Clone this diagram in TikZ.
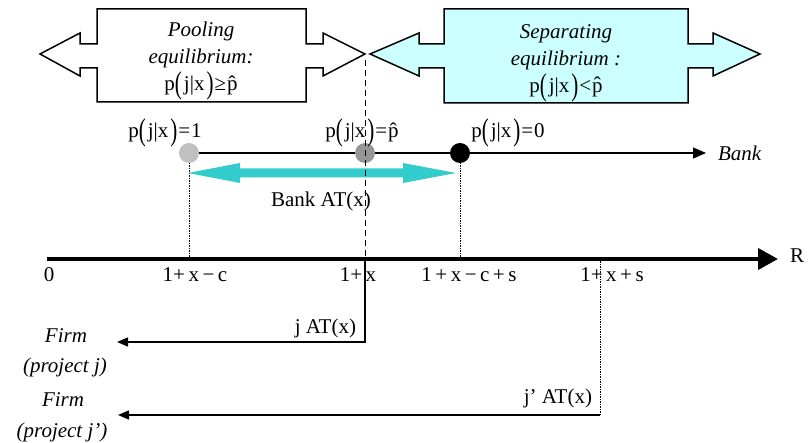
\documentclass[tikz,border=0pt]{standalone}
\usepackage{fontspec}
\setmainfont{Liberation Serif}
\usepackage{graphicx}
\usetikzlibrary{arrows.meta}
\definecolor{sepfill}{HTML}{CCFFFF}
\definecolor{tealarrow}{HTML}{33CCCC}
\definecolor{dotlight}{HTML}{C0C0C0}
\definecolor{dotmid}{HTML}{969696}
\newcommand{\myparL}{\raisebox{-0.15em}{\scalebox{1}[1.5]{(}}}
\newcommand{\myparR}{\raisebox{-0.15em}{\scalebox{1}[1.5]{)}}}
\newcommand{\pjx}{p\myparL\kern2pt j|x\kern2pt\myparR}
\begin{document}
\begin{tikzpicture}[x=1pt,y=-1pt,
  font=\fontsize{21}{27}\selectfont,
  bigarrow/.style={draw=black,line width=1.5pt,line join=miter},
  lbl/.style={inner sep=0pt,outer sep=0pt},
  dotnode/.style={circle,inner sep=0pt,minimum size=20pt},
  dottedline/.style={line width=1pt,dash pattern=on 1.5pt off 1pt},
  dashedline/.style={line width=1pt,dash pattern=on 6pt off 4pt},
  firmarrow/.style={line width=1.5pt,-{Triangle[length=11pt,width=9pt]}}]
\useasboundingbox (0,0) rectangle (809,443);

% Pooling arrow
\path[bigarrow,fill=white] (40,54) -- (80,33) -- (80,44) -- (97,44) -- (97,9) -- (306,9) -- (306,44) -- (323,44) -- (323,33) -- (365,54) -- (323,76) -- (323,68) -- (306,68) -- (306,102) -- (97,102) -- (97,68) -- (80,68) -- (80,76) -- cycle;
% Separating arrow
\path[bigarrow,fill=sepfill] (370,54) -- (419,33) -- (419,44) -- (444,44) -- (444,9) -- (688,9) -- (688,44) -- (713,44) -- (713,33) -- (760,54) -- (713,76) -- (713,68) -- (688,68) -- (688,103) -- (444,103) -- (444,68) -- (419,68) -- (419,76) -- cycle;

\node[lbl,align=center] (pool) at (201,61) {\textit{Pooling}\\\textit{equilibrium:}\\\pjx\kern1pt≥\kern1pt\^{p}};
\node[lbl,align=center] (sep) at (566,63) {\textit{Separating}\\\textit{equilibrium :}\\\pjx\kern1pt<\kern1pt\^{p}};

% coordinates
\coordinate (c1) at (189,153);
\coordinate (c2) at (365,153);
\coordinate (c3) at (460,153);
\coordinate (bankend) at (706,153);
\coordinate (ax0) at (47,259);
\coordinate (axR) at (778,259);
\coordinate (a1) at (189,259);
\coordinate (a2) at (365,259);
\coordinate (a3) at (460,259);
\coordinate (a4) at (600,259);
\coordinate (dtop) at (365,60);
\coordinate (jcorner) at (365,342);
\coordinate (jtip) at (117,342);
\coordinate (jpcorner) at (600,415);
\coordinate (jptip) at (118,415);

% bank line
\draw[line width=1.2pt,-{Triangle[length=13pt,width=11pt]}] (c1) -- (bankend);
\draw[dottedline] (c1) -- (a1);
\draw[dottedline] (c3) -- (a3);
\node[dotnode,fill=dotlight] (d1) at (c1) {};
\node[dotnode,fill=dotmid] (d2) at (c2) {};
\node[dotnode,fill=black] (d3) at (c3) {};
\node[lbl,anchor=west] (bank) at (718,153) {\textit{Bank}};

\node[lbl] (l1) at (165,133) {\pjx\kern1pt=\kern1pt1};
\node[lbl] (l2) at (362,133) {\pjx\kern1pt=\kern1pt\^{p}};
\node[lbl] (l3) at (508,133) {\pjx\kern1pt=\kern1pt0};

% teal double arrow
\fill[tealarrow] (188,173) -- (240,163) -- (240,168.5) -- (403,168.5) -- (403,163) -- (456,173) -- (403,183) -- (403,177.5) -- (240,177.5) -- (240,183) -- cycle;
\node[lbl] (bankat) at (321,201) {Bank AT(x)};

% axis
\draw[line width=4pt,-{Triangle[length=20pt,width=21pt]}] (ax0) -- (axR);
\node[lbl,anchor=west] (R) at (790,256) {R};
\node[lbl] (t0) at (49,275) {0};
\node[lbl] (t1) at (195,275) {1+\,x\,−\,c};
\node[lbl] (t2) at (358,275) {1+\,x};
\node[lbl] (t3) at (469,275) {1\,+\,x\,−\,c\,+\,s};
\node[lbl] (t4) at (612,275) {1+\,x\,+\,s};

% dashed divider
\draw[dashedline] (dtop) -- (a2);

% firm arrows
\draw[firmarrow] (a2) -- (jcorner) -- (jtip);
\draw[dottedline] (a4) -- (jpcorner);
\draw[firmarrow] (jpcorner) -- (jptip);
\node[lbl,anchor=east] (jat) at (356,328) {j AT(x)};
\node[lbl,anchor=east] (jpat) at (592,398) {j’ AT(x)};
\node[lbl] (f1) at (66,336) {\textit{Firm}};
\node[lbl] (p1) at (65,367) {\textit{(project j)}};
\node[lbl] (f2) at (63,400) {\textit{Firm}};
\node[lbl] (p2) at (62,432) {\textit{(project j’)}};
\end{tikzpicture}
\end{document}
